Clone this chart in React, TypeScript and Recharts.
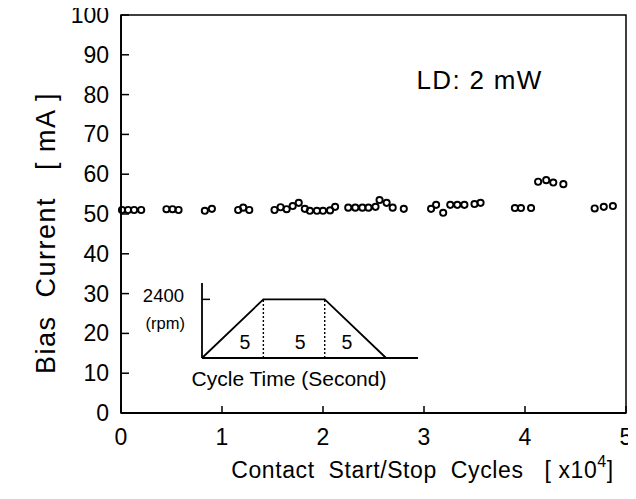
import React from "react";
import {
  ComposedChart,
  LineChart,
  Line,
  Scatter,
  XAxis,
  YAxis,
  ReferenceArea,
  ReferenceDot,
  Label,
} from "recharts";

// Main data: contact start/stop cycles (x10^4) vs bias current (mA)
const cycles = [
  0.01, 0.07, 0.13, 0.2,
  0.45, 0.51, 0.57,
  0.83, 0.9,
  1.16, 1.21, 1.27,
  1.52, 1.58, 1.64, 1.7, 1.76, 1.82, 1.87, 1.94, 2.0, 2.07, 2.12,
  2.25, 2.32, 2.39, 2.45, 2.52,
  2.56, 2.63, 2.69, 2.8,
  3.07, 3.12, 3.19, 3.26, 3.33, 3.4, 3.5, 3.56,
  3.9, 3.96, 4.06,
  4.13, 4.21, 4.28, 4.38,
  4.69, 4.78, 4.87,
];
const biasCurrent = [
  51, 51, 51, 51,
  51.2, 51.2, 51,
  50.8, 51.3,
  51, 51.6, 51,
  51, 51.7, 51.2, 52, 52.8, 51.3, 50.8, 50.8, 50.8, 50.9, 51.8,
  51.6, 51.6, 51.6, 51.6, 51.8,
  53.5, 52.8, 51.6, 51.3,
  51.3, 52.3, 50.3, 52.3, 52.3, 52.3, 52.5, 52.8,
  51.5, 51.5, 51.5,
  58.1, 58.5, 57.9, 57.5,
  51.4, 51.8, 52.0,
];
const xTicks = [0, 1, 2, 3, 4, 5];
const yTicks = [0, 10, 20, 30, 40, 50, 60, 70, 80, 90, 100];

// Inset: speed profile over one cycle
const cycleTime = [0, 5, 10, 15];
const rpm = [0, 2400, 2400, 0];
const insetTicks = [2400];
const phaseBounds = [5, 10];
const phaseLabels = [
  { t: 3.5, r: 650, text: "5" },
  { t: 8.0, r: 650, text: "5" },
  { t: 11.8, r: 650, text: "5" },
];

const mainData = cycles.map((c, i) => ({ x: c, y: biasCurrent[i] }));
const profileData = cycleTime.map((t, i) => ({ t, r: rpm[i] }));

const FONT = "'Liberation Sans', Arial, Helvetica, sans-serif";
const PRE = { whiteSpace: "pre" as const };

const YTick = (props: any) => {
  const { x, y, payload } = props;
  return (
    <g>
      <line x1={x} x2={x + 8} y1={y} y2={y} stroke="#000" strokeWidth={1.5} />
      <text
        x={x - 12}
        y={y}
        textAnchor="end"
        dominantBaseline="central"
        fontSize={23}
        fontFamily={FONT}
        fill="#000"
      >
        {payload.value}
      </text>
    </g>
  );
};

const XTick = (props: any) => {
  const { x, y, payload } = props;
  return (
    <g>
      <line x1={x} x2={x} y1={y} y2={y - 7} stroke="#000" strokeWidth={1.5} />
      <text
        x={x}
        y={y + 24}
        textAnchor="middle"
        dominantBaseline="central"
        fontSize={23}
        fontFamily={FONT}
        fill="#000"
      >
        {payload.value}
      </text>
    </g>
  );
};

const XTitle = (props: any) => {
  const vb = props.viewBox || { x: 121, y: 413, width: 505, height: 30 };
  const cx = vb.x + vb.width / 2 + 49;
  const cy = vb.y + 57;
  return (
    <text
      x={cx}
      y={cy}
      textAnchor="middle"
      dominantBaseline="central"
      fontSize={23}
      letterSpacing={0.6}
      fontFamily={FONT}
      fill="#000"
      style={PRE}
    >
      <tspan>Contact  Start/Stop  Cycles   [ x10</tspan>
      <tspan dy={-9} fontSize={16}>4</tspan>
      <tspan dy={9}>]</tspan>
    </text>
  );
};

const YTitle = (props: any) => {
  const vb = props.viewBox || { x: 0, y: 15, width: 121, height: 398 };
  const cx = vb.x + 46;
  const cy = vb.y + vb.height / 2 + 19;
  return (
    <text
      x={cx}
      y={cy}
      textAnchor="middle"
      dominantBaseline="central"
      fontSize={27}
      letterSpacing={1.5}
      fontFamily={FONT}
      fill="#000"
      style={PRE}
      transform={`rotate(-90 ${cx} ${cy})`}
    >
      Bias  Current   [ mA ]
    </text>
  );
};

const Circle = (props: any) => (
  <circle
    cx={props.cx}
    cy={props.cy}
    r={3.1}
    fill="none"
    stroke="#000"
    strokeWidth={1.9}
  />
);

const InsetYTick = (props: any) => {
  const { x, y, payload } = props;
  return (
    <g>
      <line x1={x} x2={x + 8} y1={y} y2={y} stroke="#000" strokeWidth={1.5} />
      <text
        x={x - 18}
        y={y - 4}
        textAnchor="end"
        dominantBaseline="central"
        fontSize={18.5}
        fontFamily={FONT}
        fill="#000"
      >
        {payload.value}
      </text>
      <text
        x={x - 17}
        y={y + 24}
        textAnchor="end"
        dominantBaseline="central"
        fontSize={16.5}
        fontFamily={FONT}
        fill="#000"
      >
        (rpm)
      </text>
    </g>
  );
};

const InsetXTitle = (props: any) => {
  const vb = props.viewBox || { x: 72, y: 88, width: 216, height: 30 };
  const cx = vb.x + vb.width / 2 - 21;
  const cy = vb.y + 20;
  return (
    <text
      x={cx}
      y={cy}
      textAnchor="middle"
      dominantBaseline="central"
      fontSize={21}
      fontFamily={FONT}
      fill="#000"
    >
      Cycle Time (Second)
    </text>
  );
};

export default function App() {
  return (
    <div style={{ position: "relative", width: 636, height: 499, margin: -8, background: "#fff" }}>
      <ComposedChart
        width={636}
        height={499}
        data={mainData}
        margin={{ top: 15, right: 10, left: 0, bottom: 56 }}
      >
        <XAxis
          dataKey="x"
          type="number"
          domain={[0, 5]}
          ticks={xTicks}
          tick={<XTick />}
          tickLine={false}
          tickSize={0}
          tickMargin={0}
          height={30}
          axisLine={{ stroke: "#000", strokeWidth: 1.8 }}
          interval={0}
        >
          <Label content={<XTitle />} />
        </XAxis>
        <YAxis
          dataKey="y"
          type="number"
          domain={[0, 100]}
          ticks={yTicks}
          tick={<YTick />}
          tickLine={false}
          tickSize={0}
          tickMargin={0}
          width={121}
          axisLine={{ stroke: "#000", strokeWidth: 1.8 }}
          interval={0}
        >
          <Label content={<YTitle />} />
        </YAxis>
        <ReferenceArea
          x1={0}
          x2={5}
          y1={0}
          y2={100}
          fill="none"
          stroke="#000"
          strokeWidth={1.5}
        />
        <Scatter
          data={mainData}
          dataKey="y"
          shape={<Circle />}
          isAnimationActive={false}
        />
        <ReferenceDot
          x={3.55}
          y={83.7}
          r={0}
          fill="none"
          stroke="none"
          label={{
            value: "LD:  2  mW",
            position: "center",
            fontSize: 26,
            letterSpacing: 1.3,
            fontFamily: FONT,
            fill: "#000",
            style: PRE,
          }}
        />
      </ComposedChart>
      <div style={{ position: "absolute", left: 130, top: 270 }}>
        <LineChart
          width={300}
          height={125}
          data={profileData}
          margin={{ top: 13, right: 12, left: 0, bottom: 7 }}
        >
          <XAxis
            dataKey="t"
            type="number"
            domain={[0, 17.6]}
            tick={false}
            tickLine={false}
            height={30}
            axisLine={{ stroke: "#000", strokeWidth: 1.8 }}
          >
            <Label content={<InsetXTitle />} />
          </XAxis>
          <YAxis
            type="number"
            domain={[0, 3070]}
            ticks={insetTicks}
            tick={<InsetYTick />}
            tickLine={false}
            tickSize={0}
            tickMargin={0}
            width={72}
            axisLine={{ stroke: "#000", strokeWidth: 1.8 }}
            interval={0}
          />
          <Line
            data={profileData}
            dataKey="r"
            stroke="#000"
            strokeWidth={1.8}
            dot={false}
            isAnimationActive={false}
          />
          {phaseBounds.map((b, i) => (
            <Line
              key={"pb" + i}
              data={[
                { t: b, r: 0 },
                { t: b, r: 2400 },
              ]}
              dataKey="r"
              stroke="#000"
              strokeWidth={1.4}
              strokeDasharray="2 2"
              dot={false}
              isAnimationActive={false}
            />
          ))}
          {phaseLabels.map((p, i) => (
            <ReferenceDot
              key={"pl" + i}
              x={p.t}
              y={p.r}
              r={0}
              fill="none"
              stroke="none"
              label={{
                value: p.text,
                position: "center",
                fontSize: 19.5,
                fontFamily: FONT,
                fill: "#000",
              }}
            />
          ))}
        </LineChart>
      </div>
    </div>
  );
}
